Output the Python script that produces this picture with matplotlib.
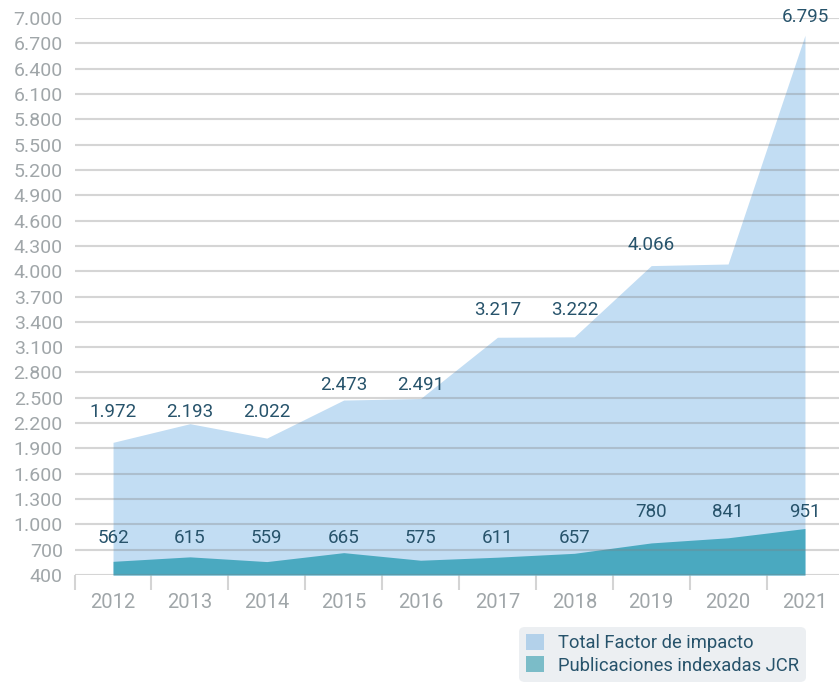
import matplotlib
matplotlib.use("Agg")
import matplotlib.pyplot as plt
from matplotlib.patches import Patch
import numpy as np

years = ["2012", "2013", "2014", "2015", "2016", "2017", "2018", "2019", "2020", "2021"]
total_factor = [1972, 2193, 2022, 2473, 2491, 3217, 3222, 4066, 4085, 6795]
total_labels = ["1.972", "2.193", "2.022", "2.473", "2.491", "3.217", "3.222", "4.066", "", "6.795"]
jcr = [562, 615, 559, 665, 575, 611, 657, 780, 841, 951]
jcr_labels = ["562", "615", "559", "665", "575", "611", "657", "780", "841", "951"]
yticks = list(range(400, 7001, 300))

# label heights (data units) as placed in the original chart
total_label_y = [2335, 2335, 2335, 2650, 2650, 3540, 3540, 4310, None, 7010]
jcr_label_y = [840, 840, 840, 840, 840, 840, 840, 1150, 1150, 1150]

plt.rcParams['font.family'] = ['Roboto', 'DejaVu Sans']

fig = plt.figure(figsize=(8.39, 6.82), dpi=100)
ax = fig.add_axes([74.6 / 839, 1 - 575 / 682, (843.4 - 74.6) / 839, 557 / 682])

x = np.arange(len(years))
ax.fill_between(x, 400, total_factor, color="#c2ddf3", linewidth=0, zorder=1)
ax.fill_between(x, 400, jcr, color="#4aa9c0", linewidth=0, zorder=2)

for yv in yticks:
    ax.axhline(yv, color="#7f7f7f", alpha=0.32, linewidth=1.5, zorder=3)

label_color = "#27536b"
for xi, lab, ly in zip(x, total_labels, total_label_y):
    if lab and ly is not None:
        ax.text(xi, ly, lab, ha="center", va="center", fontsize=13.5, color=label_color, zorder=4)
for xi, lab, ly in zip(x, jcr_labels, jcr_label_y):
    ax.text(xi, ly, lab, ha="center", va="center", fontsize=13.5, color=label_color, zorder=4)

ax.set_xlim(-0.5, len(years) - 0.5)
ax.set_ylim(400, 7000)
ax.set_yticks(yticks)
ax.set_yticklabels([f"{v:,}".replace(",", ".") for v in yticks])
ax.tick_params(axis="y", length=0, pad=8.5, labelsize=14, labelcolor="#a0a6a9")

ax.set_xticks(x)
ax.set_xticklabels(years)
ax.set_xticks(np.arange(-0.5, len(years)), minor=True)
ax.tick_params(axis="x", which="major", length=0, pad=13, labelsize=14.5, labelcolor="#a0a6a9")
ax.tick_params(axis="x", which="minor", length=11, width=1.5, color="#d4d4d4")

for s in ax.spines.values():
    s.set_visible(False)

handles = [Patch(facecolor="#b3d1ea", edgecolor="none", label="Total Factor de impacto"),
           Patch(facecolor="#7bbcc8", edgecolor="none", label="Publicaciones indexadas JCR")]
leg = fig.legend(handles=handles, loc="lower left", bbox_to_anchor=(519 / 839, 0.0),
                 frameon=True, fontsize=13.2, labelcolor=label_color,
                 handlelength=0.95, handleheight=0.95, handletextpad=0.75,
                 labelspacing=0.22, borderpad=0.4, borderaxespad=0.0)
frame = leg.get_frame()
frame.set_facecolor("#eceff2")
frame.set_edgecolor("none")
frame.set_alpha(1)
frame.set_boxstyle("round,pad=0,rounding_size=0.3")

fig.savefig("out.png", dpi=100)
